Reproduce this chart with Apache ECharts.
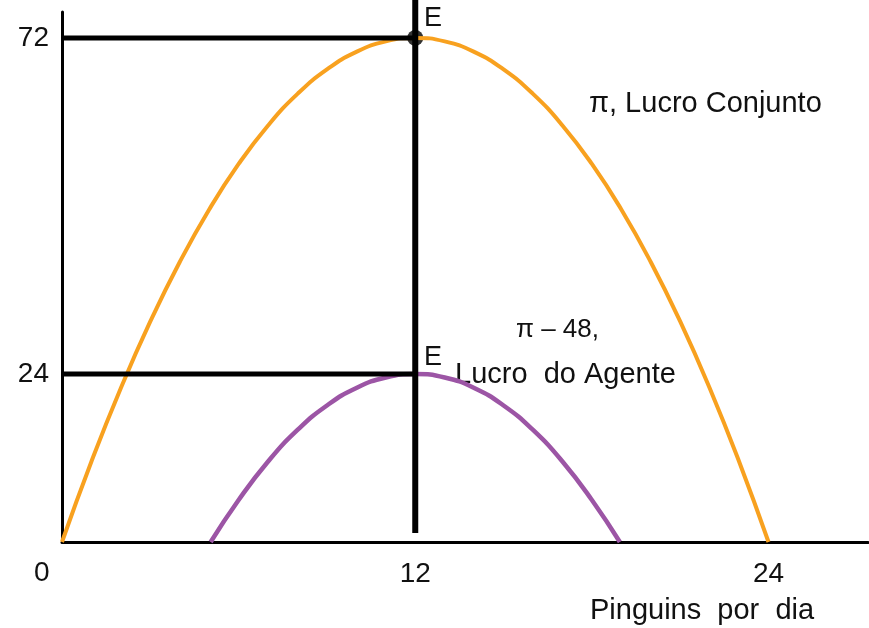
<!DOCTYPE html>
<html>
<head>
<meta charset="utf-8">
<script src="https://cdn.jsdelivr.net/npm/echarts@6/dist/echarts.min.js"></script>
<style>
  html, body { margin: 0; padding: 0; background: #fff; }
  #chart { width: 869px; height: 628px; }
</style>
</head>
<body>
<div id="chart"></div>
<script>
// lucro conjunto (pi)
var lucroX = [0, 1, 2, 3, 4, 5, 6, 7, 8, 9, 10, 11, 12, 13, 14, 15, 16, 17, 18, 19, 20, 21, 22, 23, 24];
var lucroConjunto = [0, 11.5, 22, 31.5, 40, 47.5, 54, 59.5, 64, 67.5, 70, 71.5, 72, 71.5, 70, 67.5, 64, 59.5, 54, 47.5, 40, 31.5, 22, 11.5, 0];
// lucro do agente (pi - 48)
var agenteX = [5.05, 6, 7, 8, 9, 10, 11, 12, 13, 14, 15, 16, 17, 18, 18.95];
var lucroAgente = [0, 6, 11.5, 16, 19.5, 22, 23.5, 24, 23.5, 22, 19.5, 16, 11.5, 6, 0];
var xTicks = [12, 24];
var yTicks = [24, 72];
var pontoE = [12, 72];

var FONT = 'Liberation Sans, Arial, Helvetica, sans-serif';
var myChart = echarts.init(document.getElementById('chart'));

function pares(xs, ys) {
    var out = [];
    for (var i = 0; i < xs.length; i++) out.push([xs[i], ys[i]]);
    return out;
}

function texto(x, y, str, size) {
    return {
        type: 'text', x: x, y: y,
        style: { text: str, fontSize: size, fontFamily: FONT, fill: '#111', verticalAlign: 'middle' }
    };
}

var option = {
    backgroundColor: '#fff',
    animation: false,
    grid: { left: 62, right: 1, top: 12, bottom: 86 },
    xAxis: {
        type: 'value', min: 0, max: 27.38,
        axisLine: { show: true, lineStyle: { color: '#000', width: 3 } },
        axisTick: { show: false },
        splitLine: { show: false },
        axisLabel: {
            customValues: xTicks, color: '#111', fontSize: 28, fontFamily: FONT, margin: 18
        }
    },
    yAxis: {
        type: 'value', min: 0, max: 75.7,
        axisLine: { show: true, lineStyle: { color: '#000', width: 3 } },
        axisTick: { show: false },
        splitLine: { show: false },
        axisLabel: {
            customValues: yTicks, color: '#111', fontSize: 28, fontFamily: FONT, margin: 13,
            padding: [7, 0, 0, 0]
        }
    },
    series: [{
        // lucro conjunto
        type: 'line', smooth: true, symbol: 'none',
        lineStyle: { color: '#f8a11f', width: 4 },
        data: pares(lucroX, lucroConjunto)
    }, {
        // lucro do agente
        type: 'line', smooth: true, symbol: 'none',
        lineStyle: { color: '#9c55a5', width: 4.5 },
        data: pares(agenteX, lucroAgente)
    }, {
        type: 'line', symbol: 'none',
        lineStyle: { color: '#000', width: 5 },
        data: [[0, yTicks[1]], [12, yTicks[1]]]
    }, {
        type: 'line', symbol: 'none',
        lineStyle: { color: '#000', width: 5 },
        data: [[0, yTicks[0]], [12, yTicks[0]]]
    }, {
        // linha vertical em 12
        type: 'line', symbol: 'none', clip: false,
        lineStyle: { color: '#000', width: 6 },
        data: [[12, 1.3], [12, 77.5]]
    }, {
        type: 'scatter', symbolSize: 16, clip: false,
        itemStyle: { color: '#000' },
        data: [pontoE]
    }],
    graphic: [
        texto(34, 573, '0', 28),
        texto(424, 19, 'E', 27),
        texto(424, 358, 'E', 27),
        texto(589, 104, 'π, Lucro Conjunto', 29),
        texto(516, 330, 'π – 48,', 26),
        texto(455, 375, 'Lucro  do Agente', 29),
        texto(590, 611, 'Pinguins  por  dia', 29)
    ]
};
myChart.setOption(option);
</script>
</body>
</html>
